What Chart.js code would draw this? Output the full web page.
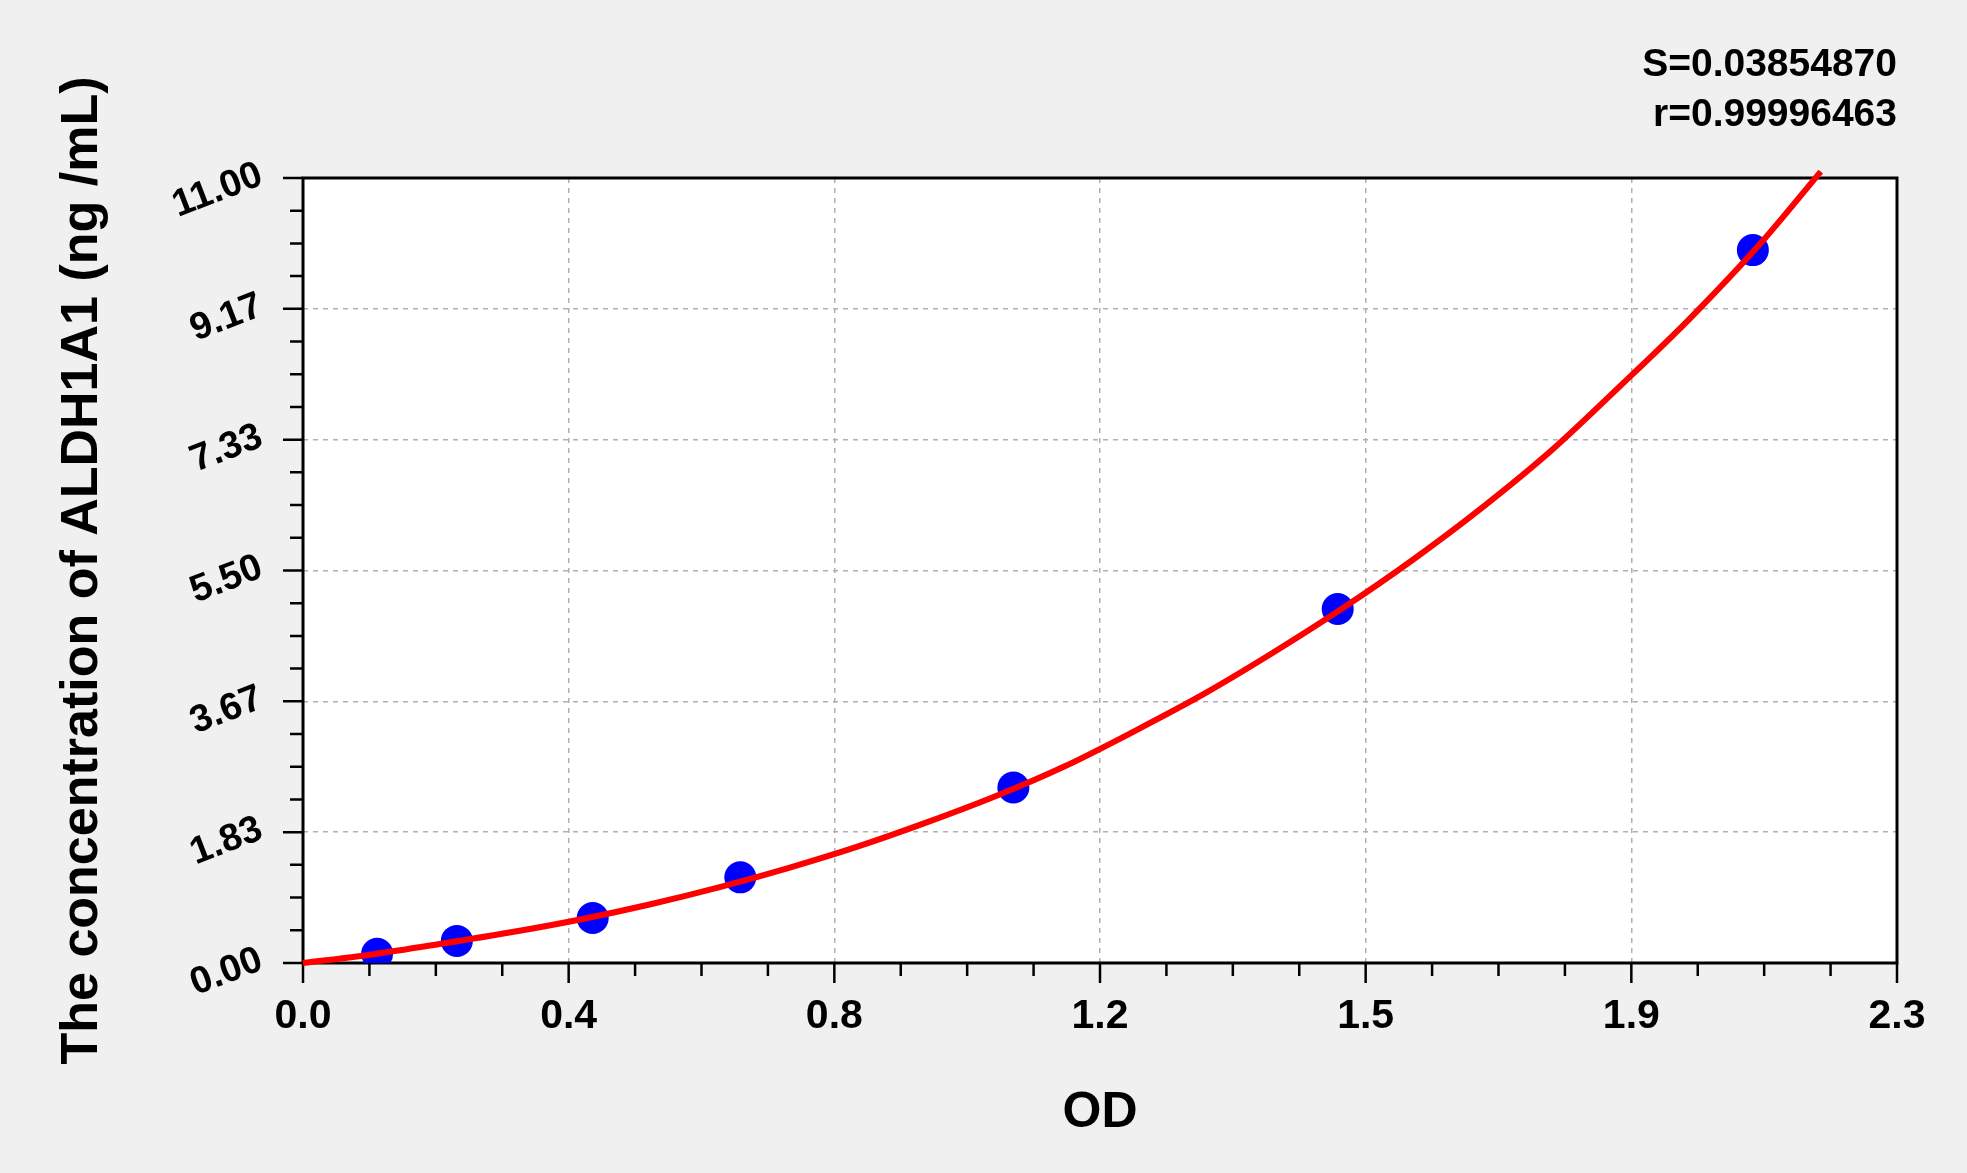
<!DOCTYPE html>
<html>
<head>
<meta charset="utf-8">
<title>ALDH1A1 standard curve</title>
<script src="https://cdn.jsdelivr.net/npm/chart.js@4.4.0/dist/chart.umd.min.js"></script>
<style>
    html, body { margin: 0; padding: 0; background: #f0f0f0; }
    canvas { display: block; }
</style>
</head>
<body>
<canvas id="curveChart" width="1967" height="1173"></canvas>
<script>
// Điểm chuẩn (OD, nồng độ)
const stdOD = [0.107, 0.222, 0.418, 0.631, 1.025, 1.493, 2.092];
const stdConc = [0.13, 0.31, 0.63, 1.20, 2.46, 4.96, 9.99];

// Đường cong fit (đọc theo từng bước 0.1 OD)
const fitOD = [0, 0.1, 0.2, 0.3, 0.4, 0.5, 0.6, 0.7, 0.8, 0.9, 1.0, 1.1, 1.2, 1.3, 1.4, 1.5, 1.6, 1.7, 1.8, 1.9, 2.0, 2.1, 2.19];
const fitConc = [0, 0.12, 0.27, 0.43, 0.61, 0.82, 1.06, 1.33, 1.63, 1.97, 2.34, 2.76, 3.25, 3.77, 4.35, 4.97, 5.64, 6.37, 7.17, 8.08, 9.02, 10.05, 11.09];

// Nhãn trục
const xTickValues = [0, 0.38333, 0.76667, 1.15, 1.53333, 1.91667, 2.3];
const xTickLabels = ['0.0', '0.4', '0.8', '1.2', '1.5', '1.9', '2.3'];
const yTickValues = [0, 1.83333, 3.66667, 5.5, 7.33333, 9.16667, 11];
const yTickLabels = ['0.00', '1.83', '3.67', '5.50', '7.33', '9.17', '11.00'];

const statLines = ['S=0.03854870', 'r=0.99996463'];
const xTitle = 'OD';
const yTitle = 'The concentration of ALDH1A1 (ng /mL)';

const FONT = "'Liberation Sans', Arial, sans-serif";
Chart.defaults.font.family = FONT;
Chart.defaults.color = '#000';

// Vẽ nền trắng, khung, vạch chia và nhãn trục Y xoay
const frame = {
    id: 'frame',
    beforeDraw(chart) {
        const { ctx, chartArea: a } = chart;
        ctx.save();
        ctx.fillStyle = '#ffffff';
        ctx.fillRect(a.left, a.top, a.right - a.left, a.bottom - a.top);
        ctx.restore();
    },
    beforeDatasetsDraw(chart) {
        const { ctx, chartArea: a } = chart;
        const xs = chart.scales.x;
        const ys = chart.scales.y;
        ctx.save();
        ctx.strokeStyle = '#000';
        ctx.lineWidth = 3;
        ctx.strokeRect(a.left, a.top, a.right - a.left, a.bottom - a.top);

        ctx.lineWidth = 2.5;
        ctx.beginPath();
        // vạch chính + phụ trục X
        xTickValues.forEach((v, i) => {
            const px = xs.getPixelForValue(v);
            ctx.moveTo(px, a.bottom);
            ctx.lineTo(px, a.bottom + 20);
            if (i < xTickValues.length - 1) {
                const step = (xTickValues[i + 1] - v) / 4;
                for (let k = 1; k < 4; k++) {
                    const mx = xs.getPixelForValue(v + step * k);
                    ctx.moveTo(mx, a.bottom);
                    ctx.lineTo(mx, a.bottom + 13);
                }
            }
        });
        // vạch chính + phụ trục Y
        yTickValues.forEach((v, i) => {
            const py = ys.getPixelForValue(v);
            ctx.moveTo(a.left, py);
            ctx.lineTo(a.left - 20, py);
            if (i < yTickValues.length - 1) {
                const step = (yTickValues[i + 1] - v) / 4;
                for (let k = 1; k < 4; k++) {
                    const my = ys.getPixelForValue(v + step * k);
                    ctx.moveTo(a.left, my);
                    ctx.lineTo(a.left - 13, my);
                }
            }
        });
        ctx.stroke();

        // nhãn trục Y nghiêng
        ctx.fillStyle = '#000';
        ctx.font = 'bold 38px ' + FONT;
        ctx.textAlign = 'right';
        ctx.textBaseline = 'middle';
        yTickValues.forEach((v, i) => {
            const py = ys.getPixelForValue(v);
            ctx.save();
            ctx.translate(a.left - 42, py - 4);
            ctx.rotate(-21 * Math.PI / 180);
            ctx.fillText(yTickLabels[i], 0, 0);
            ctx.restore();
        });
        ctx.restore();
    }
};

const ctx = document.getElementById('curveChart').getContext('2d');
const chart = new Chart(ctx, {
    data: {
        datasets: [
            {
                type: 'line',
                label: 'fit',
                data: fitOD.map((x, i) => ({ x: x, y: fitConc[i] })),
                borderColor: '#ff0000',
                borderWidth: 6,
                pointRadius: 0,
                cubicInterpolationMode: 'monotone',
                clip: false,
                order: 0
            },
            {
                type: 'scatter',
                label: 'standards',
                data: stdOD.map((x, i) => ({ x: x, y: stdConc[i] })),
                backgroundColor: '#0000ff',
                borderWidth: 0,
                pointRadius: 16,
                order: 1
            }
        ]
    },
    options: {
        responsive: false,
        animation: false,
        devicePixelRatio: 1,
        layout: { padding: { left: 20, right: 70, top: 0, bottom: 0 } },
        plugins: {
            legend: { display: false },
            tooltip: { enabled: false },
            title: {
                display: true,
                text: statLines,
                align: 'end',
                color: '#000',
                font: { size: 39, weight: 'bold', lineHeight: 1.282 },
                padding: { top: 40, bottom: 38 }
            }
        },
        scales: {
            x: {
                type: 'linear',
                min: 0,
                max: 2.3,
                afterBuildTicks: (scale) => { scale.ticks = xTickValues.map(v => ({ value: v })); },
                afterFit: (scale) => { scale.height = 210; },
                ticks: {
                    callback: (val, idx) => xTickLabels[idx],
                    font: { size: 41, weight: 'bold' },
                    color: '#000',
                    padding: 29,
                    maxRotation: 0
                },
                grid: {
                    drawTicks: false,
                    color: '#b0b0b0',
                    lineWidth: 1.5
                },
                border: { display: false, dash: [5, 5] },
                title: {
                    display: true,
                    text: xTitle,
                    font: { size: 50, weight: 'bold' },
                    color: '#000',
                    padding: { top: 0, bottom: 30 }
                }
            },
            y: {
                type: 'linear',
                min: 0,
                max: 11,
                afterBuildTicks: (scale) => { scale.ticks = yTickValues.map(v => ({ value: v })); },
                afterFit: (scale) => { scale.width = 283; },
                ticks: { display: false },
                grid: {
                    drawTicks: false,
                    color: '#b0b0b0',
                    lineWidth: 1.5
                },
                border: { display: false, dash: [5, 5] },
                title: {
                    display: true,
                    text: yTitle,
                    font: { size: 52, weight: 'bold' },
                    color: '#000',
                    padding: { top: 31, bottom: 0 }
                }
            }
        }
    },
    plugins: [frame]
});
</script>
</body>
</html>
